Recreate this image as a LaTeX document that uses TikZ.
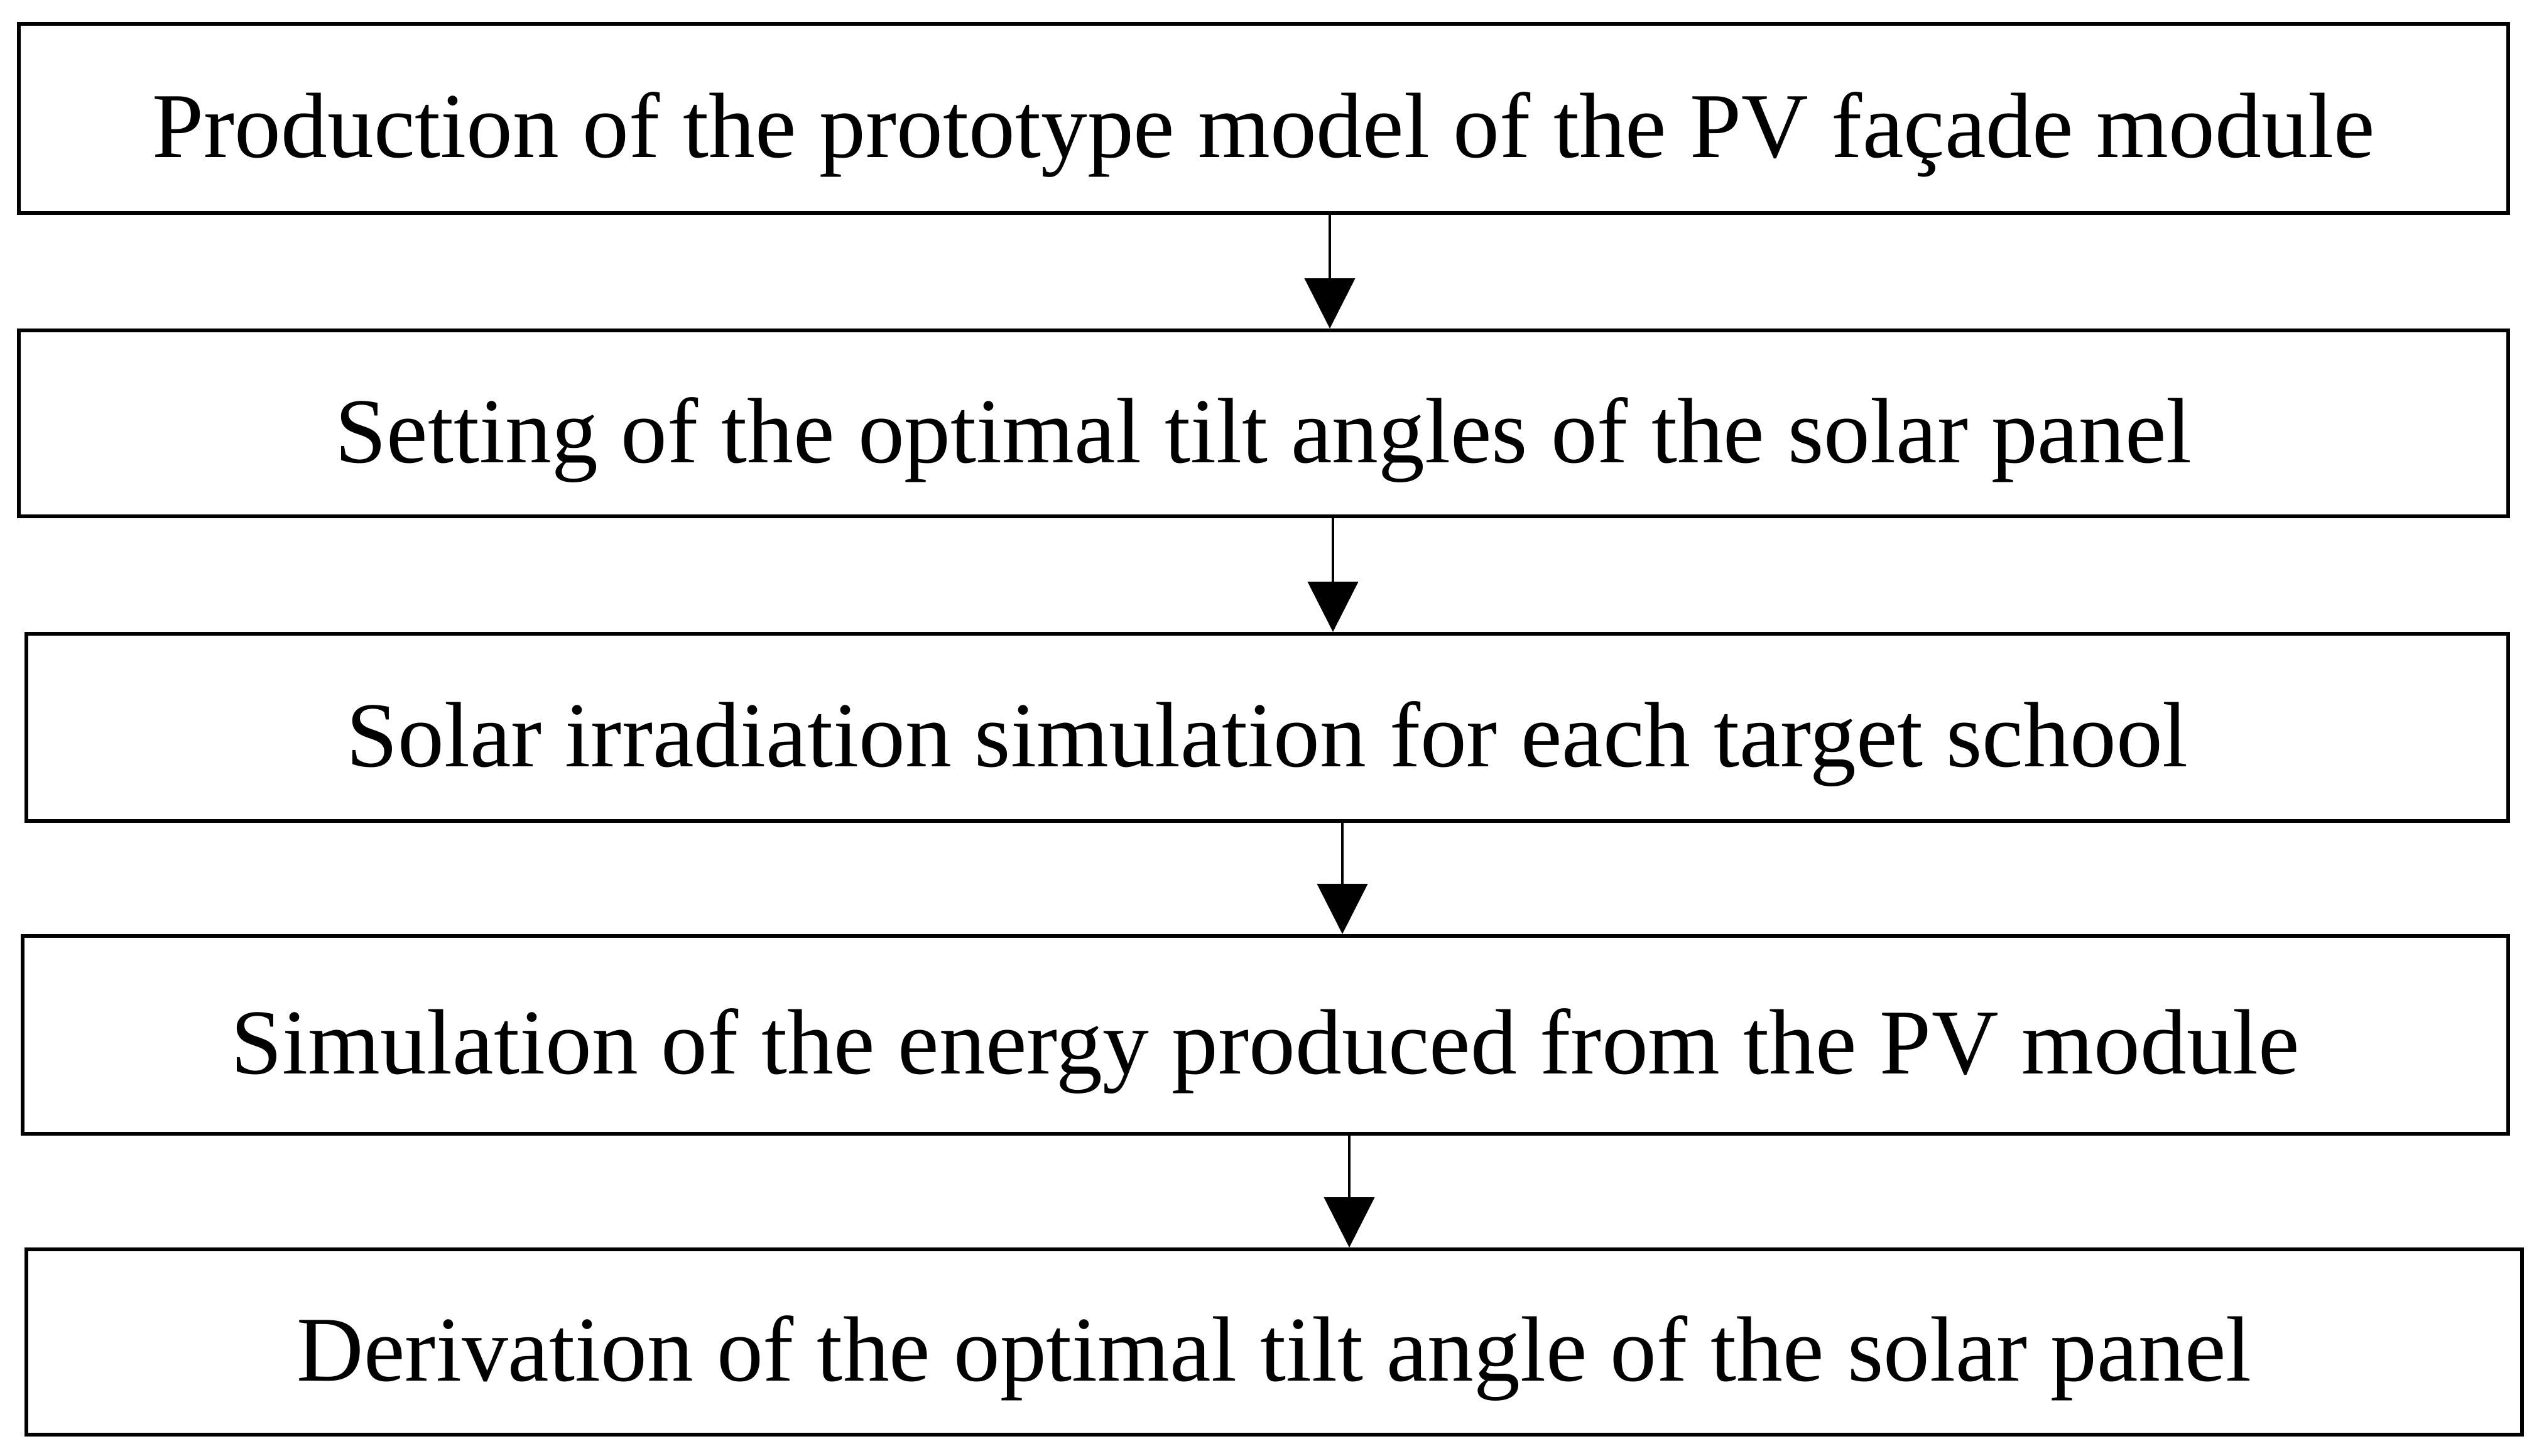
\documentclass[tikz,border=0pt]{standalone}
\usepackage{fontspec}
\setmainfont{Liberation Serif}
\usetikzlibrary{arrows.meta}
\tikzset{
  stepbox/.style={draw=black, line width=1.7pt, rectangle, inner sep=0pt, text height=1.24cm, text depth=0pt, font=\fontsize{42}{50}\selectfont},
  flowarrow/.style={line width=1.2pt, -{Triangle[width=0.8cm,length=0.8cm]}, shorten >=0pt}
}
\begin{document}
\begin{tikzpicture}
\useasboundingbox (0,0) rectangle (40.5,-23.18);
\node[stepbox, minimum width=39.63cm, minimum height=3.01cm] (b1) at (20.115,-1.885) {Production of the prototype model of the PV façade module};
\node[stepbox, minimum width=39.63cm, minimum height=2.96cm] (b2) at (20.115,-6.74) {Setting of the optimal tilt angles of the solar panel};
\node[stepbox, minimum width=39.51cm, minimum height=2.98cm] (b3) at (20.175,-11.58) {Solar irradiation simulation for each target school};
\node[stepbox, minimum width=39.57cm, minimum height=3.15cm] (b4) at (20.145,-16.475) {Simulation of the energy produced from the PV module};
\node[stepbox, minimum width=39.73cm, minimum height=2.95cm] (b5) at (20.285,-21.365) {Derivation of the optimal tilt angle of the solar panel};
\coordinate (a1) at (21.17,0);
\coordinate (a2) at (21.22,0);
\coordinate (a3) at (21.37,0);
\coordinate (a4) at (21.48,0);
\draw[flowarrow] (b1.south -| a1) -- (b2.north -| a1);
\draw[flowarrow] (b2.south -| a2) -- (b3.north -| a2);
\draw[flowarrow] (b3.south -| a3) -- (b4.north -| a3);
\draw[flowarrow] (b4.south -| a4) -- (b5.north -| a4);
\end{tikzpicture}
\end{document}
